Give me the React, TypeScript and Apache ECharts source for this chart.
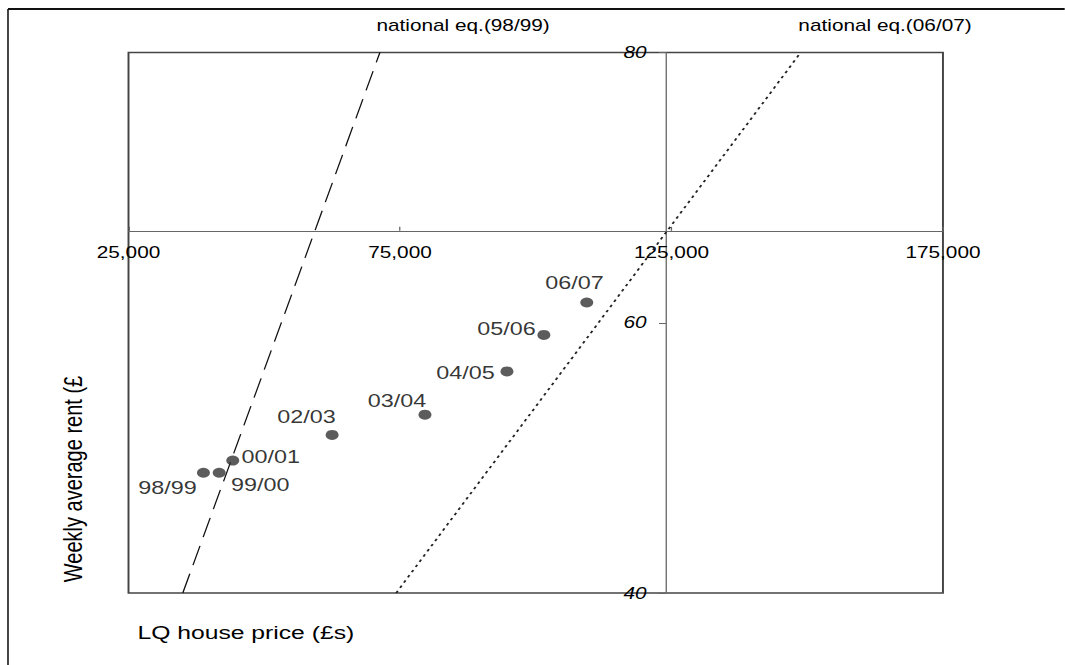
import React, { useEffect, useRef } from "react";
import * as echarts from "echarts";

// Annual observations: LQ house price (£) against weekly average rent (£)
const periods = ["98/99", "99/00", "00/01", "02/03", "03/04", "04/05", "05/06", "06/07"];
const housePrices = [38800, 41700, 44200, 62500, 79600, 94700, 101500, 109400];
const weeklyRents = [48.9, 48.9, 49.8, 51.7, 53.2, 56.4, 59.1, 61.5];

// National equivalence lines (end points at the bottom and top of the rent range)
const nationalEq9899 = [
  [35000, 40],
  [71300, 80],
];
const nationalEq0607 = [
  [74300, 40],
  [148800, 80],
];

// Axis ranges
const priceMin = 25000;
const priceMax = 175000;
const priceStep = 50000;
const rentMin = 40;
const rentMax = 80;
const rentStep = 20;

// Where the two axes cross each other
const crossPrice = 124000;
const crossRent = 66.8;

// Layout (the drawing is widened horizontally by STRETCH)
const STRETCH = 1.3;
const PAGE_W = 1065;
const PAGE_H = 665;
const CHART_W = PAGE_W / STRETCH;
const GRID = { left: 98.85, top: 52.5, width: 626.5, height: 540.5 };
const FONT = '"Liberation Sans", Arial, Helvetica, sans-serif';

// Label placement for each period, relative to its marker
const labelOffsets: Record<string, [number, number]> = {
  "98/99": [-27.6, 14.4],
  "99/00": [31.5, 11.7],
  "00/01": [29.2, -4.3],
  "02/03": [-19.7, -18.7],
  "03/04": [-21.5, -14.5],
  "04/05": [-31.9, 1],
  "05/06": [-28.8, -6],
  "06/07": [-9.4, -20.3],
};

export default function App() {
  const ref = useRef<HTMLDivElement>(null);

  useEffect(() => {
    if (!ref.current) return;
    const chart = echarts.init(ref.current, null, { renderer: "svg" });

    const xAxisOffset = -((rentMax - crossRent) / (rentMax - rentMin)) * GRID.height;
    const yAxisOffset = -((crossPrice - priceMin) / (priceMax - priceMin)) * GRID.width;

    const option: any = {
      animation: false,
      backgroundColor: "#ffffff",
      grid: {
        left: GRID.left,
        top: GRID.top,
        width: GRID.width,
        height: GRID.height,
        show: true,
        borderColor: "#444",
        borderWidth: 1.5,
        backgroundColor: "transparent",
        containLabel: false,
        outerBoundsMode: "none",
      },
      xAxis: {
        type: "value",
        min: priceMin,
        max: priceMax,
        interval: priceStep,
        position: "top",
        offset: xAxisOffset,
        axisLine: { show: true, lineStyle: { color: "#666", width: 1 } },
        axisTick: { show: true, length: 4, lineStyle: { color: "#666", width: 1 } },
        axisLabel: {
          inside: true,
          margin: 14,
          fontSize: 16,
          color: "#000",
          fontFamily: FONT,
          showMinLabel: true,
          showMaxLabel: true,
          formatter: (v: number) => v.toLocaleString("en-US"),
        },
        splitLine: { show: false },
      },
      yAxis: {
        type: "value",
        min: rentMin,
        max: rentMax,
        interval: rentStep,
        position: "left",
        offset: yAxisOffset,
        axisLine: { show: true, lineStyle: { color: "#666", width: 1 } },
        axisTick: { show: true, length: 5.4, lineStyle: { color: "#666", width: 1 } },
        axisLabel: {
          margin: 15,
          fontSize: 16,
          fontStyle: "italic",
          color: "#000",
          fontFamily: FONT,
          showMinLabel: true,
          showMaxLabel: true,
        },
        splitLine: { show: false },
      },
      series: [
        {
          type: "line",
          data: nationalEq9899,
          symbol: "none",
          silent: true,
          lineStyle: { color: "#111", width: 1, type: [20, 9] },
          z: 2,
        },
        {
          type: "line",
          data: nationalEq0607,
          symbol: "none",
          silent: true,
          lineStyle: { color: "#222", width: 1.5, type: [2.5, 3.5] },
          z: 2,
        },
        {
          type: "scatter",
          symbol: "circle",
          symbolSize: 10,
          itemStyle: { color: "#333" },
          z: 3,
          label: {
            show: true,
            position: "inside",
            formatter: "{b}",
            fontSize: 18,
            color: "#000",
            fontFamily: FONT,
            textBorderWidth: 0,
          },
          data: periods.map((p, i) => ({
            name: p,
            value: [housePrices[i], weeklyRents[i]],
            label: { offset: labelOffsets[p] },
          })),
        },
      ],
      graphic: [
        {
          type: "line",
          shape: { x1: 6.15, y1: 9, x2: CHART_W, y2: 9 },
          style: { stroke: "#111", lineWidth: 2 },
          silent: true,
        },
        {
          type: "line",
          shape: { x1: 6.15, y1: 9, x2: 6.15, y2: PAGE_H },
          style: { stroke: "#111", lineWidth: 1.2 },
          silent: true,
        },
        {
          type: "text",
          x: 356.2,
          y: 25,
          style: {
            text: "national eq.(98/99)",
            fontSize: 16,
            fontFamily: FONT,
            fill: "#000",
            align: "center",
            verticalAlign: "middle",
          },
        },
        {
          type: "text",
          x: 680.8,
          y: 25,
          style: {
            text: "national eq.(06/07)",
            fontSize: 16,
            fontFamily: FONT,
            fill: "#000",
            align: "center",
            verticalAlign: "middle",
          },
        },
        {
          type: "text",
          x: 189.1,
          y: 633,
          style: {
            text: "LQ house price (£s)",
            fontSize: 19,
            fontFamily: FONT,
            fill: "#000",
            align: "center",
            verticalAlign: "middle",
          },
        },
        {
          type: "text",
          x: 56.2,
          y: 479,
          rotation: Math.PI / 2,
          style: {
            text: "Weekly average rent (£",
            fontSize: 20,
            fontFamily: FONT,
            fill: "#000",
            align: "center",
            verticalAlign: "middle",
          },
        },
      ],
    };

    chart.setOption(option);
    return () => chart.dispose();
  }, []);

  return (
    <div
      ref={ref}
      style={{
        position: "absolute",
        left: 0,
        top: 0,
        width: CHART_W,
        height: PAGE_H,
        transform: `scaleX(${STRETCH})`,
        transformOrigin: "0 0",
      }}
    />
  );
}
